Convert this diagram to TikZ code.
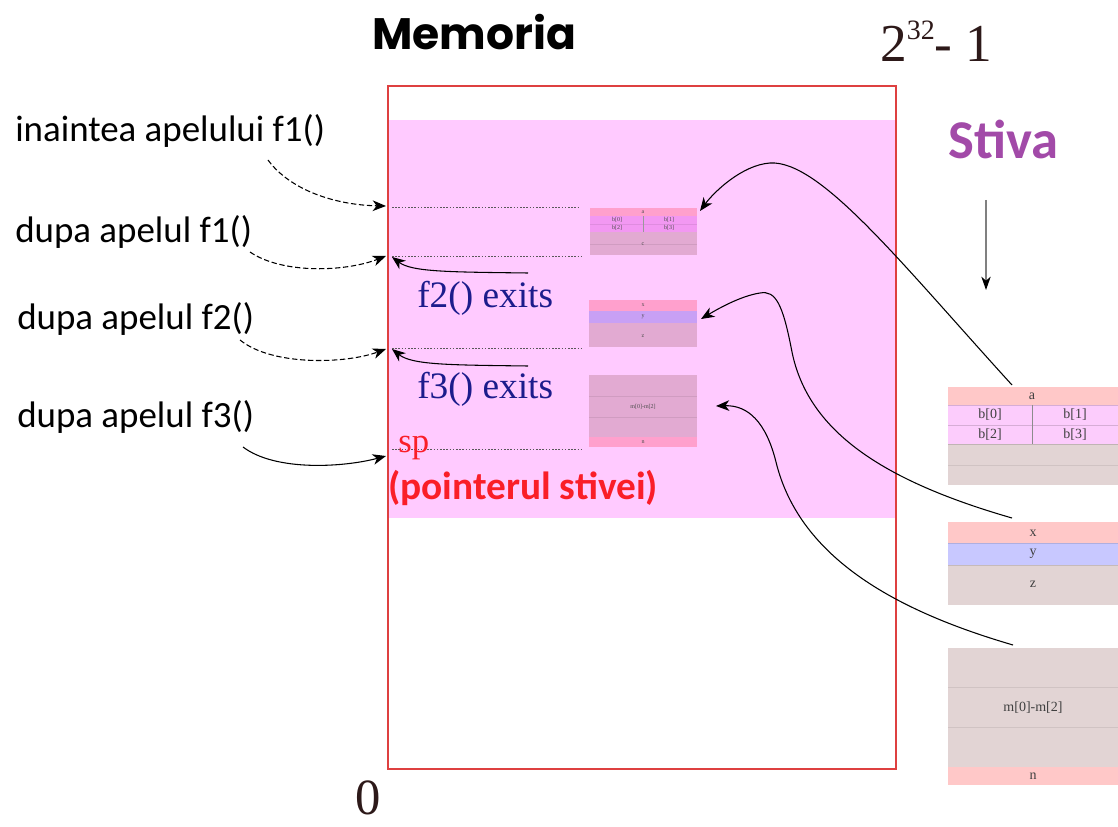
\documentclass[tikz,border=0pt]{standalone}
\usepackage{fontspec}
\setmainfont{Liberation Serif}
\newfontfamily\calibri{Carlito}
\newfontfamily\geo{Poppins}
\usetikzlibrary{arrows.meta}

\definecolor{memred}{RGB}{222,64,64}
\definecolor{stackpink}{RGB}{255,202,255}
\definecolor{stivapurple}{RGB}{162,74,168}
\definecolor{exitblue}{RGB}{28,28,140}
\definecolor{spred}{RGB}{250,30,40}
\definecolor{numdark}{RGB}{45,25,25}
% cell colours of the frames on the right
\definecolor{rowsalmon}{RGB}{255,200,200}
\definecolor{rowpink}{RGB}{252,204,252}
\definecolor{rowlav}{RGB}{200,200,255}
\definecolor{rowgray}{RGB}{226,212,212}
% cell colours of the frames inside the stack area
\definecolor{srowsalmon}{RGB}{255,160,205}
\definecolor{srowpink}{RGB}{242,152,242}
\definecolor{srowlav}{RGB}{200,160,245}
\definecolor{srowgray}{RGB}{226,170,210}

\tikzset{
  lbl/.style={font=\calibri\fontsize{27.7}{32}\selectfont, anchor=base west, inner sep=0pt},
  exitlbl/.style={font=\fontsize{28}{32}\selectfont, text=exitblue, anchor=base west, inner sep=0pt},
  tip/.style={-{Stealth[length=10pt,width=8pt,inset=3pt]}},
  dasharrow/.style={tip, dash pattern=on 4pt off 2pt, line width=0.8pt},
  solarrow/.style={tip, line width=0.8pt},
  level/.style={gray!70!black, dash pattern=on 1.2pt off 1.2pt, line width=0.6pt},
  cellline/.style={draw=black, draw opacity=0.08, line width=0.6pt},
  biglbl/.style={font=\fontsize{10.5}{12}\selectfont, text=black!75, inner sep=0pt},
  tinylbl/.style={font=\fontsize{4.5}{5}\selectfont, text=black!70, inner sep=0pt},
}

\begin{document}
\begin{tikzpicture}[x=0.75pt,y=-0.75pt]
\useasboundingbox (0,0) rectangle (1118,827);

% memory block and the stack area inside it
\fill[stackpink] (389,120) rectangle (895,518);
\draw[memred, line width=1.1pt] (388,86) rectangle (896,769);

% titles
\node[font=\geo\bfseries\fontsize{33}{36}\selectfont, anchor=base west, inner sep=0pt] (mem) at (372,50) {Memoria};
\node[font=\fontsize{40}{44}\selectfont, text=numdark, anchor=base west, inner sep=0pt] (top) at (880,62)
  {2\raisebox{0.42em}{\fontsize{21}{22}\selectfont 32}- 1};
\node[font=\fontsize{38}{42}\selectfont, text=numdark, anchor=base west, inner sep=0pt] (zero) at (355,814) {0};
\node[font=\calibri\bfseries\fontsize{41}{44}\selectfont, text=stivapurple, anchor=base west, inner sep=0pt] (stiva) at (948,159) {Stiva};
\coordinate (dirA) at (986,200);
\coordinate (dirB) at (986,290);
\draw[gray, line width=1pt, -{Stealth[length=10pt,width=7pt,inset=3pt,color=black]}] (dirA) -- (dirB);

% stack pointer levels
\coordinate (lv1) at (392,207); \coordinate (lv1e) at (580,207);
\coordinate (lv2) at (392,256); \coordinate (lv2e) at (582,256);
\coordinate (lv3) at (392,348); \coordinate (lv3e) at (582,348);
\coordinate (lv4) at (392,449); \coordinate (lv4e) at (582,449);
\draw[level] (lv1) -- (lv1e);
\draw[level] (lv2) -- (lv2e);
\draw[level] (lv3) -- (lv3e);
\draw[level] (lv4) -- (lv4e);

% labels on the left
\node[lbl] (l1) at (15,142) {inaintea apelului f1()};
\node[lbl] (l2) at (15,243) {dupa apelul f1()};
\node[lbl] (l3) at (17,330) {dupa apelul f2()};
\node[lbl] (l4) at (17,427) {dupa apelul f3()};

\coordinate (s1) at (268,160); \coordinate (t1) at (386,206);
\coordinate (s2) at (250,252); \coordinate (t2) at (386,256);
\coordinate (s3) at (240,340); \coordinate (t3) at (386,349);
\coordinate (s4) at (243,447); \coordinate (t4) at (386,456);
\draw[dasharrow] (s1) .. controls (290,190) and (335,205) .. (t1);
\draw[dasharrow] (s2) .. controls (282,274) and (345,272) .. (t2);
\draw[dasharrow] (s3) .. controls (272,366) and (345,364) .. (t3);
\draw[solarrow] (s4) .. controls (276,472) and (345,467) .. (t4);

% returns of f2 and f3
\node[exitlbl] (e2) at (417,308) {f2() exits};
\node[exitlbl] (e3) at (417,398) {f3() exits};
\coordinate (r2) at (528,273); \coordinate (r2t) at (392,257);
\coordinate (r3) at (528,366); \coordinate (r3t) at (392,349);
\draw[solarrow] (r2) .. controls (450,272) and (412,272) .. (r2t);
\draw[solarrow] (r3) .. controls (450,365) and (412,365) .. (r3t);

% stack pointer
\node[font=\fontsize{26}{30}\selectfont, text=spred, anchor=base west, inner sep=0pt] (sp) at (398,452) {sp};
\node[font=\calibri\bfseries\fontsize{29.5}{33}\selectfont, text=spred, anchor=base west, inner sep=0pt] (spl) at (388,499) {(pointerul stivei)};

% frames placed in the stack area
% frame of f1
\fill[srowsalmon] (590,208) rectangle (697,216);
\fill[srowpink] (590,216) rectangle (697,232);
\fill[srowgray] (590,232) rectangle (697,255);
\draw[cellline] (590,224) -- (697,224);
\draw[cellline] (590,244) -- (697,244);
\draw[black!40, line width=0.3pt] (643,216) -- (643,232);
\node[tinylbl] (fa) at (643,212) {a};
\node[tinylbl] at (617,220) {b[0]};
\node[tinylbl] at (669,220) {b[1]};
\node[tinylbl] at (617,228) {b[2]};
\node[tinylbl] at (669,228) {b[3]};
\node[tinylbl] at (643,244) {c};
\coordinate (fA) at (700,211);
% frame of f2
\fill[srowsalmon] (589,300) rectangle (697,311);
\fill[srowlav] (589,311) rectangle (697,323);
\fill[srowgray] (589,323) rectangle (697,347);
\node[tinylbl] at (643,305) {x};
\node[tinylbl] at (643,317) {y};
\node[tinylbl] at (643,336) {z};
\coordinate (fB) at (701,319);
% frame of f3
\fill[srowgray] (589,375) rectangle (697,437);
\fill[srowsalmon] (589,437) rectangle (697,447);
\draw[cellline] (589,396) -- (697,396);
\draw[cellline] (589,417) -- (697,417);
\node[tinylbl] at (643,407) {m[0]-m[2]};
\node[tinylbl] at (643,442) {n};
\coordinate (fC) at (716,406);

% frames on the right
% frame of f1
\fill[rowsalmon] (948,387) rectangle (1118,405);
\fill[rowpink] (948,405) rectangle (1118,444);
\fill[rowgray] (948,444) rectangle (1118,485);
\draw[cellline, draw opacity=0.15] (948,405) -- (1118,405);
\draw[cellline, draw opacity=0.15] (948,425) -- (1118,425);
\draw[cellline, draw opacity=0.15] (948,444) -- (1118,444);
\draw[cellline] (948,465) -- (1118,465);
\draw[black!45, line width=0.6pt] (1032,405) -- (1032,444);
\node[biglbl] (ra) at (1032,396) {a};
\node[biglbl] at (990,415) {b[0]};
\node[biglbl] at (1075,415) {b[1]};
\node[biglbl] at (990,435) {b[2]};
\node[biglbl] at (1075,435) {b[3]};
\coordinate (gA) at (1012,385);
% frame of f2
\fill[rowsalmon] (948,522) rectangle (1118,543);
\fill[rowlav] (948,543) rectangle (1118,565);
\fill[rowgray] (948,565) rectangle (1118,605);
\draw[cellline, draw opacity=0.12] (948,543) -- (1118,543);
\draw[cellline, draw opacity=0.12] (948,565) -- (1118,565);
\node[biglbl] at (1033,533) {x};
\node[biglbl] at (1033,554) {y};
\node[biglbl] at (1033,584) {z};
\coordinate (gB) at (1012,518);
% frame of f3
\fill[rowgray] (948,648) rectangle (1118,767);
\fill[rowsalmon] (948,767) rectangle (1118,785);
\draw[cellline] (948,687) -- (1118,687);
\draw[cellline] (948,727) -- (1118,727);
\node[biglbl] at (1033,708) {m[0]-m[2]};
\node[biglbl] at (1033,776) {n};
\coordinate (gC) at (1013,645);

% each frame points to its place in the stack
\draw[solarrow] (gA) .. controls (900,262) and (820,160) .. (770,163) .. controls (742,165) and (714,192) .. (fA);
\draw[solarrow] (gB) .. controls (880,480) and (808,430) .. (792,352) .. controls (783,305) and (776,290) .. (760,293) .. controls (740,296) and (716,310) .. (fB);
\draw[solarrow] (gC) .. controls (900,612) and (800,560) .. (776,462) .. controls (766,422) and (748,405) .. (fC);
\end{tikzpicture}
\end{document}
